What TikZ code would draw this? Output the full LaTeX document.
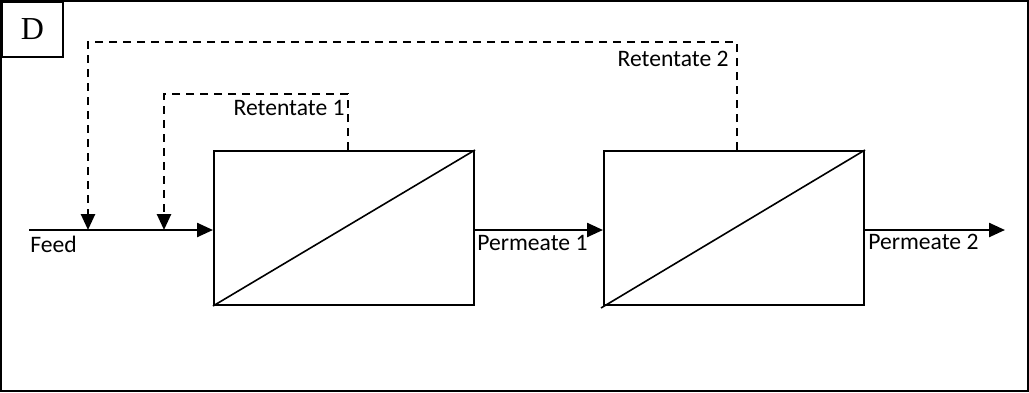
\documentclass[tikz,border=0pt]{standalone}
\usepackage{fontspec}
\setmainfont{Carlito}
\newfontfamily\tagfont{Liberation Serif}
\usetikzlibrary{arrows.meta,positioning,calc}

\begin{document}
\begin{tikzpicture}[
  x=0.5pt, y=-0.5pt,
  >={Triangle[length=8pt,width=7pt]},
  membrane/.style={draw, line width=1pt, minimum width=130pt, minimum height=77pt, inner sep=0pt},
  tagbox/.style={draw, line width=1pt, minimum width=30.5pt, minimum height=27.5pt, inner sep=0pt, font=\tagfont\fontsize{16}{18}\selectfont},
  flow/.style={->, line width=1.2pt},
  recycle/.style={->, line width=1.3pt, dash pattern=on 4pt off 3pt},
  lbl/.style={inner sep=0pt, font=\fontsize{11.8}{14}\selectfont}
]
\useasboundingbox (0,0) rectangle (1029,392);
\draw[line width=1pt] (1,1) rectangle (1028,391);

% panel tag
\node[tagbox, anchor=north west] (tag) at (1,1) {D};

% membrane stages
\node[membrane] (m1) at (344,228) {};
\node[membrane] (m2) at (734,228) {};
\draw[line width=0.8pt] (m1.south west) -- (m1.north east);
\draw[line width=0.8pt] ([xshift=-1pt,yshift=-1pt]m2.south west) -- (m2.north east);

% feed and permeate streams
\coordinate (feed) at (29,230);
\coordinate (j2) at (88,230);
\coordinate (j1) at (164,230);
\coordinate (out) at (1005,230);
\draw[flow] (feed) -- (feed -| m1.west);
\draw[flow] (m1.east |- feed) -- (m2.west |- feed);
\draw[flow] (m2.east |- feed) -- (out);

% retentate recycles
\draw[recycle] ([xshift=2pt]m1.north) -- ++(0,-56) -| (j1);
\draw[recycle] ([xshift=1.5pt]m2.north) -- ++(0,-108) -| (j2);

% stream labels
\node[lbl, anchor=base west] (lfeed) at (30,252) {Feed};
\node[lbl, anchor=base west] (lp1) at (477,250) {Permeate 1};
\node[lbl, anchor=base west] (lp2) at (868,249) {Permeate 2};
\node[lbl, anchor=base east] (lr1) at (345,115) {Retentate 1};
\node[lbl, anchor=base east] (lr2) at (729,66) {Retentate 2};
\end{tikzpicture}
\end{document}
